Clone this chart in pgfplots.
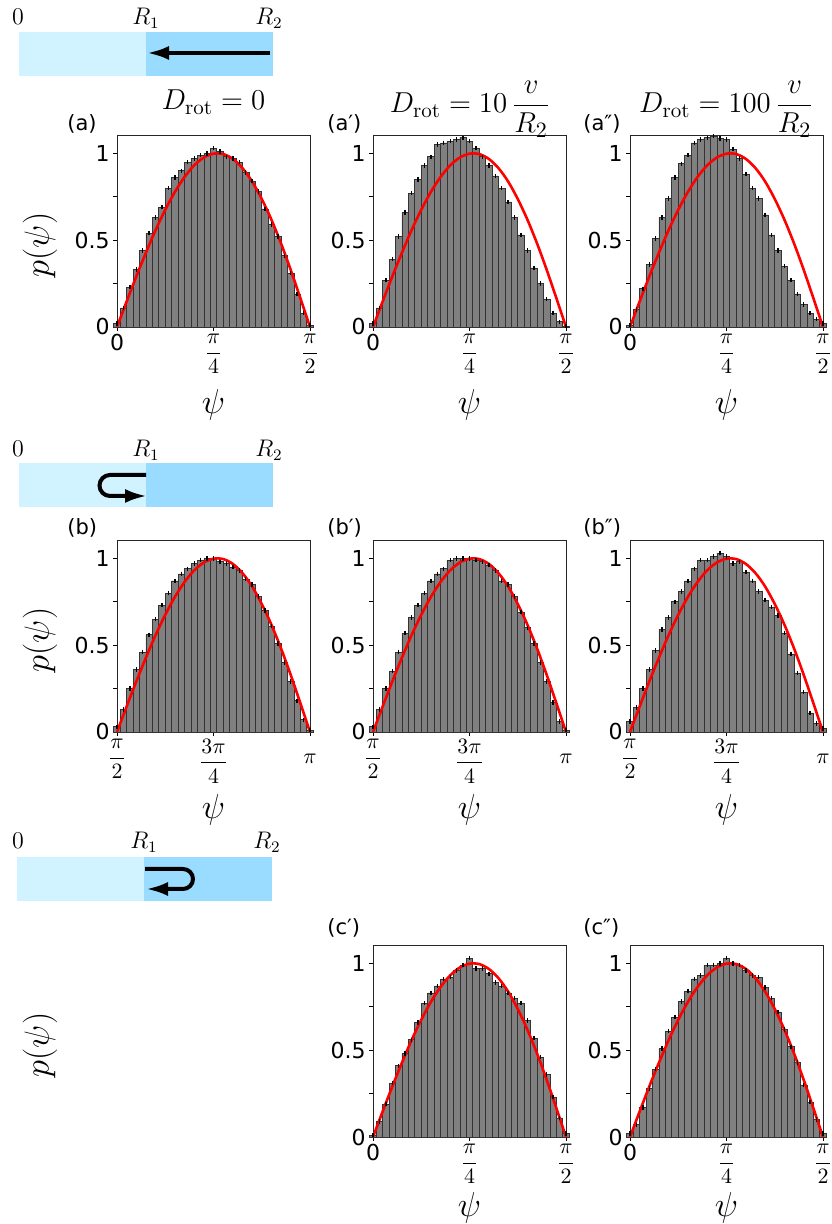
\documentclass[border=0pt]{standalone}
\usepackage{amsmath}
\usepackage{fontspec}
\newfontfamily\dejavu{DejaVu Sans}
\usepackage{pgfplots}
\pgfplotsset{compat=1.18}
\usepackage{pgfplotstable}
\usetikzlibrary{arrows.meta}

\definecolor{lightblue}{RGB}{209,242,255}
\definecolor{midblue}{RGB}{153,220,255}
\definecolor{barfill}{RGB}{128,128,128}

% histogram heights, 31 bins centred on 0,1,...,30
\pgfplotstableread{
a ap app b bp bpp cp cpp
0.02 0.02  0.01  0.03 0.03 0.06 0.01 0.02
0.11 0.11  0.10  0.13 0.13 0.14 0.09 0.07
0.23 0.27  0.22  0.25 0.25 0.25 0.19 0.17
0.33 0.39  0.36  0.36 0.35 0.36 0.31 0.28
0.44 0.52  0.51  0.46 0.46 0.47 0.41 0.39
0.54 0.66  0.63  0.56 0.57 0.59 0.48 0.51
0.63 0.77  0.74  0.65 0.66 0.66 0.56 0.61
0.69 0.85  0.86  0.73 0.73 0.75 0.66 0.69
0.80 0.93  0.94  0.80 0.80 0.81 0.77 0.78
0.86 0.98  0.99  0.87 0.87 0.87 0.83 0.84
0.90 1.05  1.06  0.91 0.91 0.94 0.87 0.91
0.95 1.06  1.08  0.94 0.94 0.99 0.91 0.93
0.97 1.07  1.09  0.97 0.99 0.99 0.92 0.99
0.99 1.08  1.10  0.99 1.00 1.01 0.96 0.99
1.00 1.09  1.085 1.00 1.00 1.03 0.99 1.00
1.03 1.07  1.08  1.00 1.00 1.01 1.03 1.03
1.01 1.03  1.025 0.98 0.99 0.97 0.97 1.00
0.98 0.98  0.97  0.97 0.98 0.98 0.97 0.99
0.97 0.93  0.88  0.95 0.96 0.92 0.94 0.96
0.95 0.87  0.80  0.93 0.93 0.87 0.89 0.93
0.89 0.80  0.74  0.88 0.87 0.81 0.87 0.92
0.84 0.72  0.645 0.85 0.85 0.76 0.83 0.86
0.78 0.63  0.53  0.78 0.78 0.72 0.80 0.80
0.68 0.53  0.44  0.70 0.69 0.67 0.77 0.72
0.59 0.44  0.35  0.61 0.60 0.57 0.67 0.62
0.52 0.34  0.27  0.51 0.51 0.45 0.57 0.52
0.41 0.25  0.19  0.40 0.40 0.34 0.46 0.43
0.31 0.16  0.13  0.29 0.29 0.23 0.36 0.30
0.19 0.08  0.08  0.18 0.17 0.11 0.23 0.20
0.08 0.03  0.045 0.07 0.06 0.05 0.11 0.10
0.01 0.005 0.02  0.01 0.01 0.02 0.02 0.02
}\hist

% red reference curve, x in bin units (0..30)
\pgfplotstableread{
x f
0 0
1.5 0.147
3 0.291
4.5 0.428
6 0.558
7.5 0.675
9 0.778
10.5 0.864
12 0.931
13.5 0.976
15 0.998
16.5 0.996
18 0.968
19.5 0.915
21 0.838
22.5 0.737
24 0.618
25.5 0.481
27 0.329
28.5 0.166
30 0
}\curve

\pgfplotsset{
  histax/.style={
    scale only axis, width=96.5pt, height=95.5pt,
    anchor=south west, clip=false,
    xmin=0, xmax=30, ymin=0, ymax=1.1,
    axis line style={black!85, line width=0.5pt},
    tick align=outside, major tick length=2pt,
    xtick pos=bottom, ytick pos=left,
    tick style={black, line width=0.5pt},
    ytick={0,0.25,0.5,0.75,1}, yticklabels={0,,0.5,,1},
    yticklabel style={font=\dejavu\fontsize{11}{13}\selectfont, inner sep=1.5pt},
    xtick={0,15,30},
    xticklabel style={font=\fontsize{11}{13}\selectfont, inner sep=1.5pt},
    xlabel={$\psi$},
    xlabel style={font=\fontsize{17}{20}\selectfont,
      at={(axis description cs:0.5,-0.41)}, anchor=center},
  },
  rowa/.style={xticklabels={{\dejavu 0},$\dfrac{\pi}{4}$,$\dfrac{\pi}{2}$}},
  rowb/.style={xticklabels={$\dfrac{\pi}{2}$,$\dfrac{3\pi}{4}$,$\vphantom{\dfrac{\pi}{2}}\pi$}},
  rowc/.style={rowa, xlabel style={at={(axis description cs:0.5,-0.37)}}},
}

\newcommand{\histplots}[1]{%
  \addplot[ybar, bar width=1, bar shift=0, fill=barfill, draw=black!80, line width=0.35pt]
    table[x expr=\coordindex, y=#1] {\hist};
  \addplot[only marks, mark=|, mark size=1.1pt, mark options={black, line width=0.7pt}]
    table[x expr=\coordindex, y=#1] {\hist};
  \addplot[red, line width=1.3pt, smooth] table[x=x, y=f] {\curve};
}

\begin{document}
\begin{tikzpicture}[x=0.5pt, y=0.5pt]
\useasboundingbox (0,0) rectangle (831,1224);

% ---- row a ----
\begin{axis}[histax, rowa, at={(58.5pt,448.5pt)}]
\histplots{a}
\end{axis}
\begin{axis}[histax, rowa, at={(186.5pt,448.5pt)}]
\histplots{ap}
\end{axis}
\begin{axis}[histax, rowa, at={(315pt,448.5pt)}]
\histplots{app}
\end{axis}

% ---- row b ----
\begin{axis}[histax, rowb, at={(58.5pt,246pt)}]
\histplots{b}
\end{axis}
\begin{axis}[histax, rowb, at={(186.5pt,246pt)}]
\histplots{bp}
\end{axis}
\begin{axis}[histax, rowb, at={(315pt,246pt)}]
\histplots{bpp}
\end{axis}

% ---- row c ----
\begin{axis}[histax, rowc, at={(186.5pt,43.5pt)}]
\histplots{cp}
\end{axis}
\begin{axis}[histax, rowc, at={(315pt,43.5pt)}]
\histplots{cpp}
\end{axis}

% panel letters
\begin{scope}[every node/.style={font=\dejavu\fontsize{10.5}{12}\selectfont, anchor=west, inner sep=0pt}]
\node at (67,1100) {(a)};
\node at (327,1100) {(a′)};
\node at (583,1100) {(a″)};
\node at (67,696) {(b)};
\node at (327,696) {(b′)};
\node at (583,696) {(b″)};
\node at (327,296) {(c′)};
\node at (583,296) {(c″)};
\end{scope}

% y labels
\begin{scope}[every node/.style={font=\fontsize{16}{19}\selectfont, rotate=90}]
\node at (40,979) {$p(\psi)$};
\node at (40,584) {$p(\psi)$};
\node at (40,179) {$p(\psi)$};
\end{scope}

% titles
\begin{scope}[every node/.style={font=\fontsize{15}{18}\selectfont, anchor=base}]
\node at (213.5,1114) {$D_{\mathrm{rot}}=0$};
\node at (470,1111) {$D_{\mathrm{rot}}=10\,\dfrac{v}{R_2}$};
\node at (726.5,1111) {$D_{\mathrm{rot}}=100\,\dfrac{v}{R_2}$};
\end{scope}

% sketches
\begin{scope}[every node/.style={font=\fontsize{12}{14}\selectfont, anchor=base}]
% a
\fill[lightblue] (19,1148) rectangle (146,1192);
\fill[midblue] (146,1148) rectangle (273,1192);
\node at (18,1199) {$0$};
\node at (146,1199) {$R_1$};
\node at (269,1199) {$R_2$};
\draw[line width=2pt, -{Latex[length=11pt, width=7pt]}] (270,1171) -- (147,1171);
% b
\fill[lightblue] (19,717) rectangle (146,761);
\fill[midblue] (146,717) rectangle (273,761);
\node at (18,767) {$0$};
\node at (146,767) {$R_1$};
\node at (269,767) {$R_2$};
\draw[line width=2pt, -{Latex[length=11pt, width=7pt]}]
  (146,749) -- (110,749) arc[start angle=90, end angle=270, radius=10.5] -- (147,728);
% c
\fill[lightblue] (17,323) rectangle (144,367);
\fill[midblue] (144,323) rectangle (272,367);
\node at (18,375) {$0$};
\node at (144,375) {$R_1$};
\node at (267,375) {$R_2$};
\draw[line width=2pt, -{Latex[length=11pt, width=7pt]}]
  (145,355) -- (183,355) arc[start angle=90, end angle=-90, radius=10] -- (146,335);
\end{scope}
\end{tikzpicture}
\end{document}
